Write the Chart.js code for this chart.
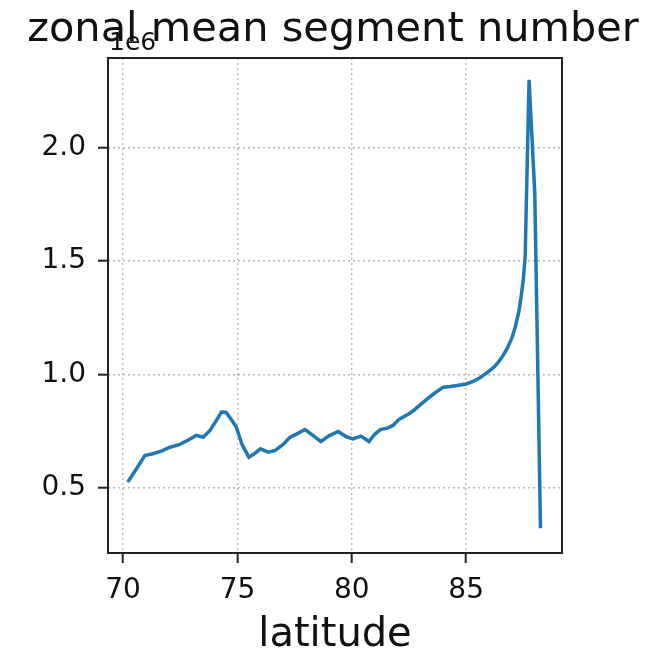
<!DOCTYPE html>
<html>
<head>
<meta charset="utf-8">
<script src="https://cdn.jsdelivr.net/npm/chart.js@4/dist/chart.umd.min.js"></script>
<style>
  html, body { margin:0; padding:0; background:#fff; }
  #wrap { width:669px; height:649px; position:relative; }
</style>
</head>
<body>
<div id="wrap"><canvas id="zonalChart"></canvas></div>
<script>
/* zonal mean segment number vs latitude */
const latitudes = [70.2, 70.6, 70.95, 71.3, 71.7, 72.05, 72.45, 72.85, 73.2, 73.5, 73.8, 74.1, 74.3, 74.5, 74.7, 74.95,
  75.2, 75.5, 75.75, 76.0, 76.35, 76.65, 77.0, 77.3, 77.6, 77.95, 78.3, 78.65, 79.0, 79.4, 79.75, 80.05, 80.4, 80.75,
  81.0, 81.25, 81.55, 81.8, 82.05, 82.25, 82.5, 82.7, 83.0, 83.3, 83.6, 84.0, 84.3, 84.6, 85.0, 85.3, 85.6, 85.9,
  86.2, 86.4, 86.6, 86.8, 87.0, 87.15, 87.3, 87.4, 87.5, 87.58, 87.75, 88.0, 88.25];
const segmentNumber = [524000, 585000, 641000, 649000, 662000, 678000, 689000, 710000, 730000, 722000, 752000, 800000,
  833000, 832000, 805000, 767000, 690000, 634000, 650000, 671000, 656000, 664000, 690000, 722000, 737000, 756000,
  730000, 703000, 728000, 747000, 725000, 715000, 727000, 703000, 735000, 756000, 762000, 774000, 800000, 811000,
  826000, 840000, 866000, 891000, 915000, 943000, 946000, 950000, 957000, 968000, 985000, 1006000, 1030000, 1052000,
  1080000, 1115000, 1160000, 1210000, 1275000, 1340000, 1420000, 1520000, 2300000, 1800000, 320000];
const xTicks = [70, 75, 80, 85];
const yTicks = [500000, 1000000, 1500000, 2000000];

const titleText = 'zonal mean segment number';
const xLabel = 'latitude';
const offsetText = '1e6';

const FONT = "'DejaVu Sans', sans-serif";

const frame = {
  id: 'frame',
  afterDraw(chart) {
    const { ctx, chartArea: a } = chart;
    ctx.save();
    ctx.strokeStyle = '#222';
    ctx.lineWidth = 2;
    ctx.strokeRect(a.left, a.top, a.right - a.left, a.bottom - a.top);
    ctx.fillStyle = '#111';
    ctx.textBaseline = 'alphabetic';
    ctx.textAlign = 'center';
    ctx.font = `41.5px ${FONT}`;
    ctx.fillText(titleText, 333, 41);
    ctx.font = `40px ${FONT}`;
    ctx.fillText(xLabel, (a.left + a.right) / 2, 646);
    ctx.textAlign = 'left';
    ctx.font = `25px ${FONT}`;
    ctx.fillText(offsetText, a.left + 1, 50);
    ctx.restore();
  }
};

new Chart(document.getElementById('zonalChart'), {
  type: 'line',
  data: {
    datasets: [{
      data: latitudes.map((x, i) => ({ x, y: segmentNumber[i] })),
      borderColor: '#1f77b4', borderWidth: 3.5, pointRadius: 0, tension: 0, fill: false
    }]
  },
  options: {
    responsive: true, maintainAspectRatio: false, animation: false,
    layout: { padding: { top: 58, right: 107, left: 0, bottom: 0 } },
    plugins: { legend: { display: false }, tooltip: { enabled: false } },
    scales: {
      x: {
        type: 'linear', min: 69.34, max: 89.19,
        afterBuildTicks: s => { s.ticks = xTicks.map(v => ({ value: v })); },
        afterFit: s => { s.height = 96; },
        grid: { color: '#b8b8b8', lineWidth: 1.4, tickColor: '#222', tickLength: 10, tickWidth: 2, tickBorderDash: [] },
        border: { display: false, dash: [2, 3] },
        ticks: { color: '#111', font: { family: FONT, size: 28 }, padding: 11, maxRotation: 0 }
      },
      y: {
        type: 'linear', min: 211000, max: 2396000,
        afterBuildTicks: s => { s.ticks = yTicks.map(v => ({ value: v })); },
        afterFit: s => { s.width = 108; },
        grid: { color: '#b8b8b8', lineWidth: 1.4, tickColor: '#222', tickLength: 10, tickWidth: 2, tickBorderDash: [] },
        border: { display: false, dash: [2, 3] },
        ticks: { color: '#111', font: { family: FONT, size: 28 }, padding: 12, callback: v => (v / 1e6).toFixed(1) }
      }
    }
  },
  plugins: [frame]
});
</script>
</body>
</html>
